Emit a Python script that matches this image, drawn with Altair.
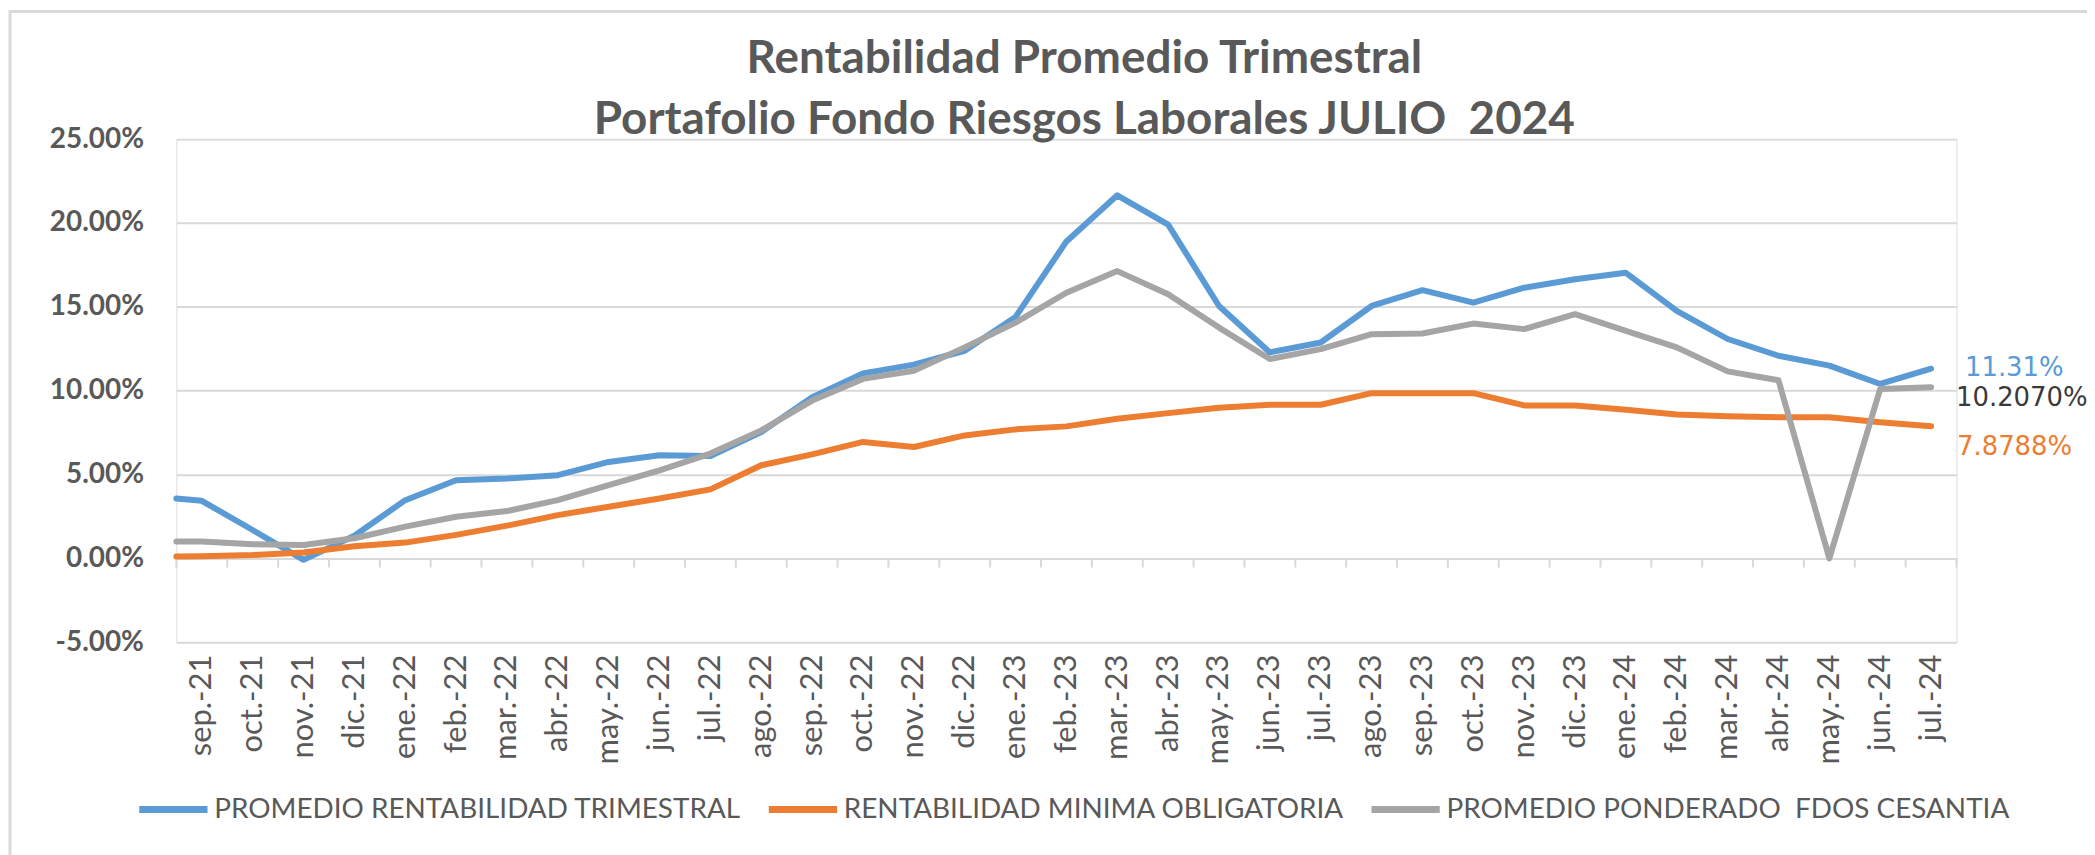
import altair as alt
import pandas as pd

months = ["sep.-21", "oct.-21", "nov.-21", "dic.-21",
          "ene.-22", "feb.-22", "mar.-22", "abr.-22", "may.-22", "jun.-22",
          "jul.-22", "ago.-22", "sep.-22", "oct.-22", "nov.-22", "dic.-22",
          "ene.-23", "feb.-23", "mar.-23", "abr.-23", "may.-23", "jun.-23",
          "jul.-23", "ago.-23", "sep.-23", "oct.-23", "nov.-23", "dic.-23",
          "ene.-24", "feb.-24", "mar.-24", "abr.-24", "may.-24", "jun.-24",
          "jul.-24"]

# values in percent
rent_trimestral = [3.43, 1.69, -0.09, 1.35,
                   3.47, 4.66, 4.76, 4.96, 5.75, 6.15, 6.10, 7.53, 9.61, 11.03, 11.55, 12.38,
                   14.40, 18.90, 21.65, 19.90, 15.05, 12.28, 12.87, 15.05, 15.99, 15.25, 16.14, 16.64,
                   17.03, 14.76, 13.08, 12.08, 11.49, 10.40, 11.31]
rent_minima = [0.12, 0.20, 0.35, 0.72,
               0.94, 1.40, 1.95, 2.58, 3.08, 3.57, 4.11, 5.55, 6.20, 6.94, 6.64, 7.33,
               7.69, 7.87, 8.32, 8.66, 8.98, 9.16, 9.16, 9.85, 9.85, 9.85, 9.12, 9.12,
               8.86, 8.58, 8.48, 8.42, 8.42, 8.12, 7.8788]
prom_cesantia = [1.00, 0.84, 0.80, 1.20,
                 1.89, 2.48, 2.82, 3.47, 4.36, 5.25, 6.25, 7.63, 9.41, 10.70, 11.19, 12.58,
                 14.06, 15.84, 17.13, 15.75, 13.76, 11.89, 12.48, 13.37, 13.41, 14.00, 13.67, 14.56,
                 13.57, 12.58, 11.15, 10.62, 0.00, 10.10, 10.207]
# value at the left edge of the axis (before sep.-21)
start_values = [3.57, 0.11, 1.00]

series_names = ["PROMEDIO RENTABILIDAD TRIMESTRAL",
                "RENTABILIDAD MINIMA OBLIGATORIA",
                "PROMEDIO PONDERADO\u00a0 FDOS CESANTIA"]
series_colors = ["#5B9BD5", "#ED7D31", "#A5A5A5"]
end_labels = ["11.31%", "7.8788%", "10.2070%"]
end_label_colors = ["#5B9BD5", "#ED7D31", "#3A3A3A"]
y_ticks = [-0.05, 0.0, 0.05, 0.10, 0.15, 0.20, 0.25]

series_values = [rent_trimestral, rent_minima, prom_cesantia]
rows = []
for name, start, vals in zip(series_names, start_values, series_values):
    rows.append({"serie": name, "pos": 0.0, "v": start / 100})
    for i, val in enumerate(vals):
        rows.append({"serie": name, "pos": i + 0.5, "v": val / 100})
df = pd.DataFrame(rows)

ticks_df = pd.DataFrame({"pos": list(range(len(months) + 1))})
ticks_df["v"] = 0.0
ticks_df["v2"] = -0.0055

W, H = 1787, 505
GRAY = "#595959"
GRID = "#D9D9D9"

label_expr = "[" + ",".join("'" + m + "'" for m in months) + "][floor(datum.value)]"

x_enc = alt.X("pos:Q",
              scale=alt.Scale(domain=[0, len(months)], nice=False, zero=False),
              axis=alt.Axis(values=[i + 0.5 for i in range(len(months))],
                            labelExpr=label_expr, labelAngle=-90, ticks=False,
                            domain=False, grid=False, title=None,
                            labelPadding=12, labelFont="Lato", labelFontSize=31,
                            labelColor=GRAY, labelOverlap=False))
y_enc = alt.Y("v:Q",
              scale=alt.Scale(domain=[-0.05, 0.25], nice=False, zero=False),
              axis=alt.Axis(values=y_ticks, title=None, domain=False,
                            labelExpr="(datum.value < 0 ? '-' : '') + format(abs(datum.value), '.2%')",
                            ticks=False, gridColor=GRID, gridWidth=2,
                            labelPadding=33, labelFont="Lato", labelFontWeight="bold",
                            labelFontSize=28, labelColor=GRAY))

legend = alt.Legend(title=None, orient="none", legendX=-41, legendY=635,
                    direction="horizontal", symbolType="stroke", symbolStrokeWidth=7,
                    symbolSize=4700, labelFont="Lato", labelFontSize=28,
                    labelColor=GRAY, labelLimit=2000, columnPadding=12, labelOffset=3)
color_enc = alt.Color("serie:N",
                      scale=alt.Scale(domain=series_names, range=series_colors),
                      legend=legend)

base = alt.Chart(df)
lines = []
for name in series_names:
    lines.append(
        base.transform_filter(alt.datum.serie == name)
        .mark_line(strokeWidth=6, strokeJoin="round", strokeCap="round")
        .encode(x=x_enc, y=y_enc, color=color_enc)
    )

tick_layer = alt.Chart(ticks_df).mark_rule(color=GRID, strokeWidth=2).encode(
    x=x_enc, y=y_enc, y2="v2:Q")

offsets = [(34, -1), (26, 21), (25, 11)]
label_layers = []
for name, vals, lab, col, (dx, dy) in zip(series_names, series_values, end_labels,
                                          end_label_colors, offsets):
    ldf = pd.DataFrame({"pos": [len(vals) - 0.5], "v": [vals[-1] / 100], "label": [lab]})
    label_layers.append(
        alt.Chart(ldf).mark_text(align="left", baseline="middle", dx=dx, dy=dy,
                                 font="DejaVu Sans", fontSize=26, color=col)
        .encode(x=x_enc, y=y_enc, text="label:N")
    )

frame = alt.Chart(alt.Data(values=[{"a": 1}])).mark_rect(
    fillOpacity=0, stroke=GRID, strokeWidth=3).encode(
    x=alt.value(-167), x2=alt.value(4000), y=alt.value(-128), y2=alt.value(3000))

chart = alt.layer(frame, tick_layer, *lines, *label_layers).properties(
    width=W, height=H,
    autosize=alt.AutoSizeParams(type="none"),
    padding={"left": 169, "top": 130, "right": 131, "bottom": 212},
    title=alt.Title(
        text=["Rentabilidad Promedio Trimestral",
              "Portafolio Fondo Riesgos Laborales JULIO\u00a0 2024"],
        font="Lato", fontSize=46, fontWeight="bold", color=GRAY,
        lineHeight=61, anchor="middle", dx=18, offset=-134),
).configure_view(stroke=None).configure(background="white")

chart.save("out.html", embed_options={"renderer": "svg", "actions": False})
